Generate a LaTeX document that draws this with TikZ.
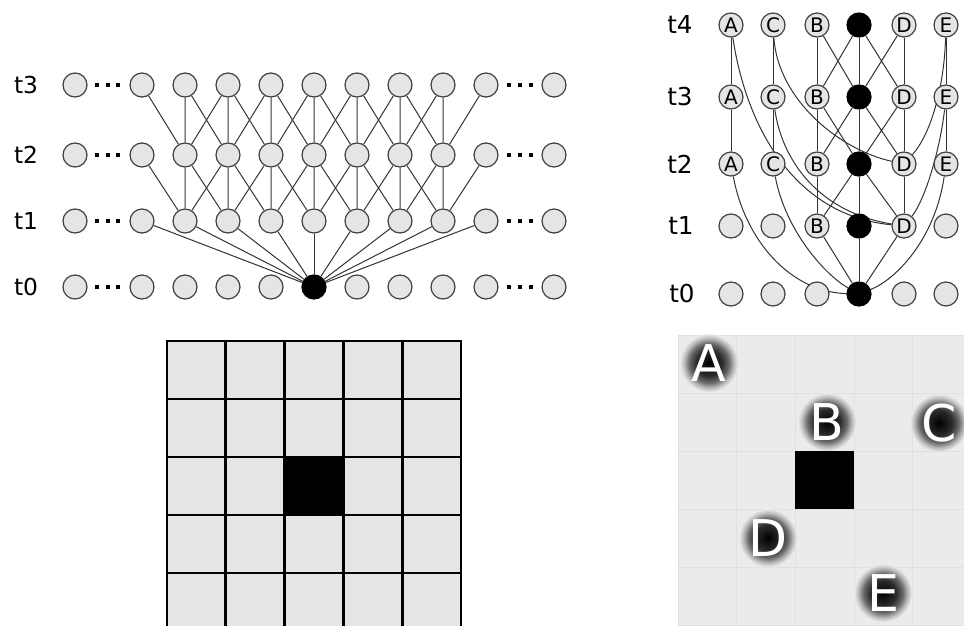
\documentclass[tikz,border=0pt]{standalone}
\usepackage{fontspec}
\setmainfont{DejaVu Sans}
\usepackage{tikz}
\usetikzlibrary{positioning,backgrounds}

\colorlet{nodegray}{black!10}
\colorlet{cellgray}{black!8}
\colorlet{glowa}{black!82!cellgray}
\colorlet{glowb}{black!55!cellgray}
\colorlet{glowc}{black!20!cellgray}
\pgfdeclareradialshading{glow}{\pgfpoint{0bp}{0bp}}{color(0bp)=(black); color(11bp)=(glowa); color(17bp)=(glowb); color(21.5bp)=(glowc); color(25bp)=(cellgray); color(50bp)=(cellgray)}

\begin{document}
\begin{tikzpicture}[x=0.75pt, y=-0.75pt,
  pnode/.style={circle, draw=black!75, fill=nodegray, line width=0.9pt, minimum size=18pt, inner sep=0pt},
  hit/.style={pnode, fill=black, draw=black},
  rnode/.style={pnode, font=\fontsize{15}{15}\selectfont},
  lbl/.style={font=\fontsize{17.5}{19}\selectfont, inner sep=0pt},
  rlbl/.style={font=\fontsize{18.5}{20}\selectfont, inner sep=0pt},
  link/.style={draw=black!80, line width=0.75pt},
  cellbox/.style={draw=black, line width=2pt, fill=black!10},
  softcell/.style={draw=black!12, line width=0.6pt, fill=cellgray},
  glowtxt/.style={text=white, font=\fontsize{38}{40}\selectfont, inner sep=0pt},
]
\useasboundingbox (0,0) rectangle (964,625);

% left: cone on a line
\foreach \r/\y in {3/85,2/155,1/221,0/287}{
  \node[lbl] (lt\r) at (26,\y) {t\r};
  \node[pnode] (l\r-0) at (75,\y) {};
  \node[pnode] (l\r-10) at (554,\y) {};
  \foreach \c in {1,...,9}{
    \ifnum\r\c=5 \def\ns{hit}\else\def\ns{pnode}\fi
    \node[\ns] (l\r-\c) at ({142+43*(\c-1)},\y) {};
  }
  \foreach \x in {97,107.5,118,508.5,520,531}
    \fill (\x-2,\y-2) rectangle ++(4,4);
}
\begin{scope}[on background layer]
\foreach \c in {1,...,9} \draw[link] (l0-5) -- (l1-\c);
\foreach \r/\s in {1/2,2/3} \foreach \c in {2,...,8}{
  \pgfmathtruncatemacro\prv{\c-1}\pgfmathtruncatemacro\nxt{\c+1}
  \draw[link] (l\r-\c) -- (l\s-\prv) (l\r-\c) -- (l\s-\c) (l\r-\c) -- (l\s-\nxt);
}
\end{scope}

% right: cone on the grid
\foreach \r/\y in {4/25,3/97,2/164}{
  \node[rlbl] (rt\r) at (680,\y) {t\r};
  \foreach \n/\lt/\x in {a/A/731,c/C/773,b/B/817,d/D/904,e/E/946}
    \node[rnode] (r\r-\n) at (\x,\y) {\lt};
  \node[hit] (r\r-x) at (859,\y) {};
}
\node[rlbl] (rt1) at (681,226) {t1};
\foreach \n/\x in {a/731,c/773,e/946} \node[pnode] (r1-\n) at (\x,226) {};
\node[rnode] (r1-b) at (817,226) {B};
\node[hit] (r1-x) at (859,226) {};
\node[rnode] (r1-d) at (904,226) {D};
\node[rlbl] (rt0) at (682,294) {t0};
\foreach \n/\x in {a/731,c/773,b/817,d/904,e/946} \node[pnode] (r0-\n) at (\x,294) {};
\node[hit] (r0-x) at (859,294) {};

\begin{scope}[on background layer]
\foreach \r/\s in {4/3,3/2}{
  \foreach \n in {a,c,b,x,d,e} \draw[link] (r\r-\n) -- (r\s-\n);
  \draw[link] (r\r-b) -- (r\s-x) (r\r-x) -- (r\s-b) (r\r-x) -- (r\s-d) (r\r-d) -- (r\s-x);
}
\foreach \n in {b,x,d} \draw[link] (r2-x) -- (r1-\n);
\draw[link] (r2-b) -- (r1-b) (r2-d) -- (r1-d);
\foreach \n in {b,x,d} \draw[link] (r1-\n) -- (r0-x);
% long links
\draw[link] (r4-a) .. controls (745,120) and (790,215) .. (r1-d);
\draw[link] (r3-c) .. controls (782,160) and (818,212) .. (r1-d);
\draw[link] (r4-c) .. controls (778,100) and (840,150) .. (r2-d);
\draw[link] (r4-e) .. controls (944,90) and (930,135) .. (r2-d);
\draw[link] (r3-e) .. controls (940,150) and (925,200) .. (r1-d);
\draw[link] (r2-a) .. controls (745,240) and (790,292) .. (r0-x);
\draw[link] (r2-c) .. controls (785,230) and (825,275) .. (r0-x);
\draw[link] (r2-e) .. controls (935,240) and (895,280) .. (r0-x);
\end{scope}

% bottom left grid
\foreach \i in {0,...,4} \foreach \j in {0,...,4}
  \draw[cellbox] ({167+58.8*\i},{341+58*\j}) rectangle ++(58.8,58);
\draw[cellbox, fill=black] ({167+58.8*2},{341+58*2}) rectangle ++(58.8,58);

% bottom right grid
\begin{scope}
\clip (0,0) rectangle (964,625);
\foreach \i in {0,...,4} \foreach \j in {0,...,4}
  \draw[softcell] ({678+58.7*\i},{335+58*\j}) rectangle ++(58.7,58);
\fill ({678+58.7*2},{335+58*2}) rectangle ++(58.7,58);
\end{scope}
\foreach \n/\lt/\x/\y in {ga/A/709/363,gb/B/827/422,gc/C/939/423,gd/D/768/538,ge/E/883/593}{
  \shade[shading=glow] (\x,\y) circle (29);
  \node[glowtxt] (\n) at (\x,\y) {\lt};
}
\end{tikzpicture}
\end{document}
